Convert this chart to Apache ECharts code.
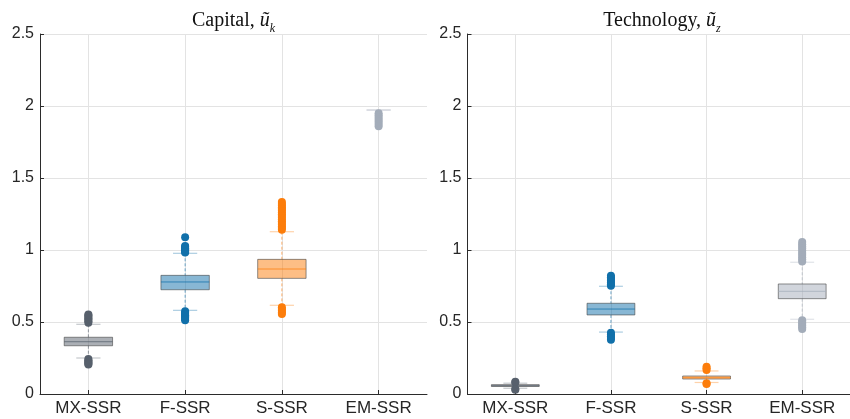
<!DOCTYPE html>
<html>
<head>
<meta charset="utf-8">
<script src="https://cdn.jsdelivr.net/npm/echarts@6/dist/echarts.min.js"></script>
<style>
  html, body { margin: 0; padding: 0; background: #fff; }
  #chart { width: 850px; height: 419px; }
</style>
</head>
<body>
<div id="chart"></div>
<script>
// Regimes on the horizontal axis of both panels
const categories = ['MX-SSR', 'F-SSR', 'S-SSR', 'EM-SSR'];

// Box summaries per regime: [lower whisker, Q1, median, Q3, upper whisker]
const capitalBoxes = [
  [0.250, 0.335, 0.363, 0.394, 0.484],
  [0.581, 0.724, 0.778, 0.824, 0.977],
  [0.616, 0.803, 0.868, 0.935, 1.127],
  [1.972, 1.972, 1.972, 1.972, 1.972]
];
const technologyBoxes = [
  [0.040, 0.052, 0.058, 0.065, 0.075],
  [0.430, 0.549, 0.590, 0.630, 0.748],
  [0.080, 0.104, 0.113, 0.125, 0.160],
  [0.519, 0.662, 0.713, 0.764, 0.915]
];

// Outlying draws per regime
const capitalOutliers = [
  [0.495, 0.505, 0.515, 0.525, 0.535, 0.545, 0.552,
   0.243, 0.235, 0.226, 0.218, 0.210, 0.204],
  [1.088, 1.028, 1.020, 1.012, 1.004, 0.996, 0.988, 0.982,
   0.574, 0.565, 0.556, 0.547, 0.538, 0.529, 0.520, 0.512],
  [1.140, 1.152, 1.164, 1.176, 1.188, 1.200, 1.212, 1.224, 1.236, 1.248,
   1.260, 1.272, 1.284, 1.296, 1.308, 1.320, 1.333,
   0.602, 0.590, 0.578, 0.566, 0.555],
  [1.950, 1.935, 1.920, 1.905, 1.890, 1.875, 1.860]
];
const technologyOutliers = [
  [0.079, 0.085, 0.034, 0.030],
  [0.822, 0.810, 0.798, 0.786, 0.774, 0.762, 0.752,
   0.425, 0.413, 0.401, 0.389, 0.377],
  [0.166, 0.178, 0.190, 0.074, 0.070],
  [1.055, 1.040, 1.025, 1.010, 0.995, 0.980, 0.965, 0.950, 0.935, 0.920,
   0.512, 0.500, 0.488, 0.476, 0.464, 0.452]
];

// Shared value axis
const yMin = 0, yMax = 2.5, yStep = 0.5;

// Panel titles
const panelTitles = [
  { name: 'Capital, ', sym: 'ũ', sub: 'k' },
  { name: 'Technology, ', sym: 'ũ', sub: 'z' }
];

const palette = ['#57606c', '#1170aa', '#fc7d0b', '#a3acb9'];

function rgba(hex, a) {
  const n = parseInt(hex.slice(1), 16);
  return 'rgba(' + ((n >> 16) & 255) + ',' + ((n >> 8) & 255) + ',' + (n & 255) + ',' + a + ')';
}

const grids = [
  { left: 40, top: 34, width: 387, height: 360 },
  { left: 467.5, top: 34, width: 389, height: 360 }
];

const axisColor = '#2b2b2b';
const gridColor = '#e3e3e3';
const textColor = '#262626';

function renderBox(params, api) {
  const cat = api.value(0);
  const low = api.value(1), q1 = api.value(2), med = api.value(3), q3 = api.value(4), high = api.value(5);
  const x = api.coord([cat, 0])[0];
  const bw = api.size([1, 0])[0] * 0.5;
  const cw = bw * 0.5;
  const y = v => api.coord([cat, v])[1];
  const color = palette[cat];
  const children = [];
  if (high > q3) {
    children.push({ type: 'line', shape: { x1: x, y1: y(high), x2: x, y2: y(q3) },
      style: { stroke: rgba(color, 0.6), lineWidth: 1, lineDash: [3, 2] } });
  }
  if (q1 > low) {
    children.push({ type: 'line', shape: { x1: x, y1: y(q1), x2: x, y2: y(low) },
      style: { stroke: rgba(color, 0.6), lineWidth: 1, lineDash: [3, 2] } });
  }
  [high, low].forEach(v => {
    children.push({ type: 'line', shape: { x1: x - cw / 2, y1: y(v), x2: x + cw / 2, y2: y(v) },
      style: { stroke: rgba(color, 0.35), lineWidth: 1.2 } });
  });
  if (q3 - q1 > 1e-9) {
    children.push({ type: 'rect',
      shape: { x: x - bw / 2, y: y(q3), width: bw, height: y(q1) - y(q3) },
      style: { fill: rgba(color, 0.5), stroke: 'rgba(70,70,70,0.6)', lineWidth: 1 } });
    children.push({ type: 'line', shape: { x1: x - bw / 2, y1: y(med), x2: x + bw / 2, y2: y(med) },
      style: { stroke: rgba(color, 0.75), lineWidth: 1 } });
  }
  return { type: 'group', children: children };
}

function boxData(boxes) {
  return boxes.map((b, i) => [i].concat(b));
}
function outlierData(outs) {
  const d = [];
  outs.forEach((arr, i) => arr.forEach(v => d.push([i, v])));
  return d;
}

const xAxes = grids.map((g, i) => ({
  type: 'category', gridIndex: i, data: categories,
  axisLine: { show: true, lineStyle: { color: axisColor, width: 1 } },
  axisTick: { show: true, inside: true, alignWithLabel: true, length: 4, lineStyle: { color: axisColor } },
  axisLabel: { color: textColor, fontSize: 17, fontFamily: 'Liberation Sans, Arial, sans-serif', margin: 6 },
  splitLine: { show: true, alignWithLabel: true, lineStyle: { color: gridColor, width: 1 } }
}));
const yAxes = grids.map((g, i) => ({
  type: 'value', gridIndex: i, min: yMin, max: yMax, interval: yStep,
  axisLine: { show: true, lineStyle: { color: axisColor, width: 1 } },
  axisTick: { show: true, inside: true, length: 4, lineStyle: { color: axisColor } },
  axisLabel: { color: textColor, fontSize: 16, fontFamily: 'Liberation Sans, Arial, sans-serif', margin: 6 },
  splitLine: { show: true, lineStyle: { color: gridColor, width: 1 } }
}));

const panels = [
  { boxes: capitalBoxes, outliers: capitalOutliers },
  { boxes: technologyBoxes, outliers: technologyOutliers }
];

const series = [];
panels.forEach((p, i) => {
  series.push({
    type: 'custom', xAxisIndex: i, yAxisIndex: i,
    renderItem: renderBox, data: boxData(p.boxes),
    encode: { x: 0, y: [1, 2, 3, 4, 5] }, silent: true, z: 2
  });
  series.push({
    type: 'scatter', xAxisIndex: i, yAxisIndex: i,
    data: outlierData(p.outliers), symbol: 'circle', symbolSize: 8,
    itemStyle: { color: params => palette[params.value[0]], opacity: 1 },
    silent: true, z: 3
  });
});

const titleGraphics = panelTitles.map((t, i) => ({
  type: 'text',
  x: grids[i].left + grids[i].width / 2,
  y: 23,
  style: {
    text: '{n|' + t.name + '}{i|' + t.sym + '}{s|' + t.sub + '}',
    align: 'center', verticalAlign: 'middle',
    fill: '#111',
    rich: {
      n: { fontFamily: 'Liberation Serif, serif', fontSize: 20, verticalAlign: 'bottom', padding: [0, 0, 4, 0], fill: '#111' },
      i: { fontFamily: 'Liberation Serif, serif', fontSize: 20, fontStyle: 'italic', verticalAlign: 'bottom', padding: [0, 0, 4, 0], fill: '#111' },
      s: { fontFamily: 'Liberation Serif, serif', fontSize: 12, fontStyle: 'italic', verticalAlign: 'bottom', fill: '#111' }
    }
  }
}));

const chart = echarts.init(document.getElementById('chart'), null, { renderer: 'canvas' });
chart.setOption({
  animation: false,
  backgroundColor: '#ffffff',
  grid: grids,
  xAxis: xAxes,
  yAxis: yAxes,
  series: series,
  graphic: titleGraphics
});
</script>
</body>
</html>
